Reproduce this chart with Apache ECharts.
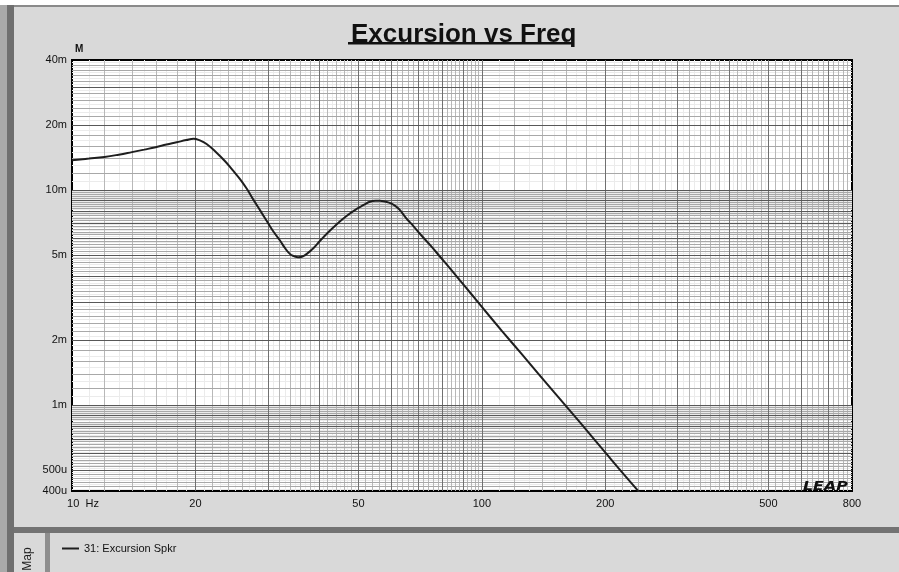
<!DOCTYPE html>
<html>
<head>
<meta charset="utf-8">
<script src="https://cdn.jsdelivr.net/npm/echarts@6/dist/echarts.min.js"></script>
<style>
html,body{margin:0;padding:0;background:#d9d9d9;}
#chart{width:899px;height:572px;}
</style>
</head>
<body>
<div id="chart"></div>
<script>
// ---- data ----
const freqHz = [10, 11, 12, 13, 14, 15, 16, 17, 18, 19, 19.8, 20.5, 21.3, 22.5, 23.6, 24.6, 25.7, 26.7, 27.7, 28.8, 30, 31, 32.2, 33, 34, 34.8, 35.6, 36.5, 37.4, 38.8, 40.3, 42.2, 44.2, 46.5, 49.5, 51.5, 53.3, 55, 56.4, 58, 60, 62.5, 65.5, 68, 70.6, 75, 79, 84, 88.4, 94, 100, 112, 125, 150, 175, 200, 225, 250];
const excursionMm = [13.7, 13.95, 14.2, 14.55, 14.95, 15.35, 15.75, 16.2, 16.6, 17.0, 17.25, 16.95, 16.3, 14.9, 13.6, 12.4, 11.2, 10.1, 9.0, 8.0, 7.07, 6.4, 5.8, 5.4, 5.04, 4.92, 4.86, 4.9, 5.04, 5.35, 5.8, 6.35, 6.9, 7.5, 8.15, 8.5, 8.8, 8.9, 8.9, 8.82, 8.65, 8.2, 7.35, 6.8, 6.25, 5.5, 4.9, 4.27, 3.8, 3.3, 2.86, 2.21, 1.73, 1.15, 0.817, 0.604, 0.464, 0.369];
const seriesName = '31: Excursion Spkr';
const xTickLabels = [10, 20, 50, 100, 200, 500, 800];
const yTickLabels = [0.4, 0.5, 1, 2, 5, 10, 20, 40];
const xRange = [10, 800];
const yRange = [0.4, 40];
const xDecades = [10, 100];
const yDecades = [0.1, 1, 10];

// ---- grid line values (LEAP style log paper) ----
function buildLines(decades, lo, hi, dir) {
  const out = [];
  decades.forEach(b => {
    for (let k = 1; k <= 9; k++) {
      const base = k * b;
      if (base > lo * 1.0001 && base < hi * 0.9999) out.push({v: base, lvl: 0, dir});
      for (let j = 1; j <= 9; j++) {
        const v = +(base + j * b / 10).toFixed(6);
        const lvl = (j % 2 === 0) ? 1 : 2;
        if (dir === 'x' && lvl === 2 && k >= 5) continue;
        if (v > lo * 1.0001 && v < hi * 0.9999) out.push({v, lvl, dir});
      }
    }
  });
  return out;
}
const gridLines = buildLines(xDecades, xRange[0], xRange[1], 'x')
  .concat(buildLines(yDecades, yRange[0], yRange[1], 'y'))
  .sort((a, b) => b.lvl - a.lvl);

const lineColors = {
  x: ['#707070', '#b8b8b8', '#ebebeb'],
  y: ['#585858', '#a8a8a8', '#ebebeb']
};

const chart = echarts.init(document.getElementById('chart'), null, {renderer: 'canvas'});

function fmtY(v) {
  if (v >= 0.999) return Math.round(v) + 'm';
  return Math.round(v * 1000) + 'u';
}

const FONT = 'Liberation Sans, Arial, sans-serif';

const option = {
  backgroundColor: '#d9d9d9',
  animation: false,
  title: {
    text: 'Excursion vs Freq',
    left: 346,
    top: 17,
    textStyle: {fontFamily: FONT, fontWeight: 'bold', fontSize: 26, color: '#111'}
  },
  legend: {
    left: 57,
    top: 538,
    data: [seriesName],
    icon: 'rect',
    itemWidth: 17,
    itemHeight: 2,
    itemGap: 10,
    textStyle: {fontFamily: FONT, fontSize: 11, color: '#111'}
  },
  grid: {
    left: 72, top: 60, width: 780, height: 431,
    show: true, backgroundColor: '#ffffff', borderColor: '#000', borderWidth: 2,
    containLabel: false
  },
  xAxis: {
    type: 'log', logBase: 10, min: xRange[0], max: xRange[1],
    axisLine: {show: true, lineStyle: {color: '#000', width: 2}},
    axisTick: {show: false},
    splitLine: {show: false},
    minorSplitLine: {show: false},
    axisLabel: {
      customValues: xTickLabels,
      margin: 7,
      fontFamily: FONT, fontSize: 11, color: '#111',
      formatter: v => (Math.abs(v - 10) < 1e-6) ? '{first|10  Hz}' : String(Math.round(v)),
      rich: {first: {fontFamily: FONT, fontSize: 11, color: '#111', padding: [0, 0, 0, 22]}}
    }
  },
  yAxis: {
    type: 'log', logBase: 10, min: yRange[0], max: yRange[1],
    name: 'M', nameLocation: 'end', nameGap: 6,
    nameTextStyle: {fontFamily: FONT, fontSize: 10, fontWeight: 'bold', color: '#111', align: 'left', padding: [0, 0, 0, 3]},
    axisLine: {show: true, lineStyle: {color: '#000', width: 2}},
    axisTick: {show: false},
    splitLine: {show: false},
    axisLabel: {
      customValues: yTickLabels,
      margin: 5,
      fontFamily: FONT, fontSize: 11, color: '#111',
      formatter: fmtY
    }
  },
  series: [
    {
      type: 'custom',
      name: 'grid',
      silent: true,
      z: 1,
      clip: false,
      data: gridLines.map(g => g.dir === 'x' ? [g.v, 1] : [100, g.v]),
      renderItem: (params, api) => {
        const g = gridLines[params.dataIndex];
        let x1, y1, x2, y2;
        if (g.dir === 'x') {
          const a = api.coord([g.v, yRange[0]]), b = api.coord([g.v, yRange[1]]);
          x1 = x2 = Math.round(a[0]) + 0.5; y1 = a[1]; y2 = b[1];
        } else {
          const a = api.coord([xRange[0], g.v]), b = api.coord([xRange[1], g.v]);
          y1 = y2 = Math.round(a[1]) + 0.5; x1 = a[0]; x2 = b[0];
        }
        return {type: 'line', shape: {x1, y1, x2, y2}, style: {stroke: lineColors[g.dir][g.lvl], lineWidth: 1}, silent: true};
      }
    },
    {
      type: 'line',
      name: seriesName,
      data: freqHz.map((f, i) => [f, excursionMm[i]]),
      smooth: 0.45,
      showSymbol: false,
      symbol: 'none',
      clip: true,
      z: 5,
      color: '#1e1e1e',
      lineStyle: {color: '#1e1e1e', width: 2}
    }
  ],
  graphic: [
    {type: 'rect', shape: {x: 0, y: 0, width: 899, height: 5}, style: {fill: '#ffffff'}, silent: true},
    {type: 'rect', shape: {x: 7, y: 5, width: 892, height: 2}, style: {fill: '#8a8a8a'}, silent: true},
    {type: 'rect', shape: {x: 0, y: 5, width: 7, height: 567}, style: {fill: '#a9a9a9'}, silent: true},
    {type: 'rect', shape: {x: 7, y: 5, width: 7, height: 567}, style: {fill: '#6f6f6f'}, silent: true},
    {type: 'rect', shape: {x: 14, y: 527, width: 885, height: 6}, style: {fill: '#737373'}, silent: true},
    {type: 'rect', shape: {x: 45, y: 533, width: 5, height: 39}, style: {fill: '#8e8e8e'}, silent: true},
    {type: 'rect', shape: {x: 348, y: 42, width: 224, height: 2.5}, style: {fill: '#111'}, silent: true},
    {type: 'text', x: 28, y: 559, rotation: Math.PI / 2, silent: true,
     style: {text: 'Map', fontFamily: FONT, fontSize: 12, fill: '#222', align: 'center', verticalAlign: 'middle'}},
    {type: 'text', x: 803, y: 480, scaleX: 1.22, z: 100, silent: true,
     style: {text: 'LEAP', fontFamily: 'DejaVu Sans, sans-serif', fontWeight: 'bold', fontStyle: 'italic', fontSize: 13, fill: '#111', align: 'left', verticalAlign: 'top'}}
  ]
};
chart.setOption(option);
</script>
</body>
</html>
